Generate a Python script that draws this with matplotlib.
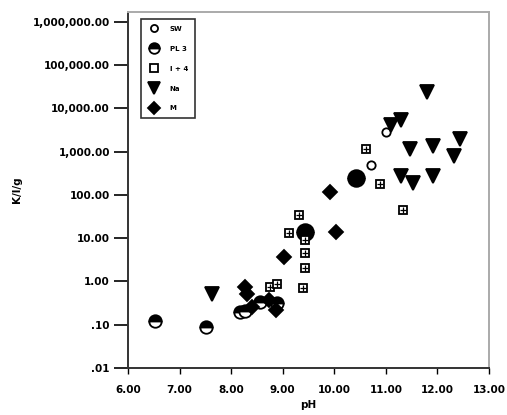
import matplotlib
matplotlib.use("Agg")
import matplotlib.pyplot as plt
from matplotlib.ticker import FixedLocator, FixedFormatter

# Series data (pH, Kd)
labels = ["SW", "PL 3", "I + 4", "Na", "M"]

s1_ph = [11.00, 10.71]
s1_kd = [2900, 500]

s2_ph = [6.52, 7.52, 8.17, 8.27, 8.56, 8.88]
s2_kd = [0.12, 0.09, 0.20, 0.21, 0.34, 0.31]
s2b_ph = [10.42, 9.44]
s2b_kd = [250, 14]

s3_ph = [10.62, 10.88, 11.33, 9.31, 9.12, 9.44, 9.44, 9.40, 8.75, 8.88, 9.44]
s3_kd = [1180, 175, 46, 35, 13, 4.6, 2.1, 0.72, 0.76, 0.87, 9.0]

s4_ph = [11.79, 11.29, 11.10, 11.46, 11.92, 12.44, 12.33, 11.29, 11.52, 11.92, 7.63]
s4_kd = [24000, 5500, 4200, 1180, 1380, 2000, 810, 275, 190, 275, 0.50]

s5_ph = [9.92, 9.02, 10.04, 8.27, 8.31, 8.40, 8.73, 8.87]
s5_kd = [117, 3.7, 14, 0.76, 0.50, 0.26, 0.38, 0.22]

yticks = [0.01, 0.1, 1, 10, 100, 1000, 10000, 100000, 1000000]
ytick_labels = [".01", ".10", "1.00", "10.00", "100.00", "1,000.00",
                "10,000.00", "100,000.00", "1,000,000.00"]
xticks = [6, 7, 8, 9, 10, 11, 12, 13]
xtick_labels = ["6.00", "7.00", "8.00", "9.00", "10.00", "11.00", "12.00", "13.00"]

fig = plt.figure(figsize=(5.07, 4.15), dpi=100)
ax = fig.add_axes([0.2525, 0.1133, 0.712, 0.858])
ax.set_yscale("log")
ax.set_xlim(6, 13)
ax.set_ylim(0.01, 10 ** 6.23)

k = dict(linestyle="none", markeredgecolor="black", markeredgewidth=1.3)
h1, = ax.plot(s1_ph, s1_kd, marker="o", markersize=6, markerfacecolor="white",
              label=labels[0], **k)
h2, = ax.plot(s2_ph, s2_kd, marker="o", markersize=9, fillstyle="top",
              markerfacecolor="black", markerfacecoloralt="white",
              label=labels[1], **k)
ax.plot(s2b_ph, s2b_kd, marker="o", markersize=12, fillstyle="top",
        markerfacecolor="black", markerfacecoloralt="black", **k)
h3, = ax.plot(s3_ph, s3_kd, marker="s", markersize=6, markerfacecolor="white",
              label=labels[2], **k)
ax.plot(s3_ph, s3_kd, marker="+", markersize=5, linestyle="none",
        color="black", markeredgewidth=0.9)
h4, = ax.plot(s4_ph, s4_kd, marker="v", markersize=10, markerfacecolor="black",
              label=labels[3], **k)
h5, = ax.plot(s5_ph, s5_kd, marker="D", markersize=7, markerfacecolor="black",
              label=labels[4], **k)

ax.yaxis.set_major_locator(FixedLocator(yticks))
ax.yaxis.set_major_formatter(FixedFormatter(ytick_labels))
ax.yaxis.set_minor_locator(FixedLocator([]))
ax.set_xticks(xticks)
ax.set_xticklabels(xtick_labels)
ax.tick_params(axis="y", direction="out", length=10, width=1.2, labelsize=7.5, pad=3)
ax.tick_params(axis="x", direction="out", length=4, width=1.0, labelsize=7.5, pad=8)
for t in ax.get_xticklabels() + ax.get_yticklabels():
    t.set_fontweight("bold")

for side in ["left", "bottom"]:
    ax.spines[side].set_linewidth(1.4)
    ax.spines[side].set_color("#333333")
for side in ["top", "right"]:
    ax.spines[side].set_linewidth(1.4)
    ax.spines[side].set_color("#aaaaaa")

ax.set_xlabel("pH", fontsize=7.5, fontweight="bold", labelpad=4)
ax.set_ylabel("K/l/g", fontsize=7.5, fontweight="bold", labelpad=8)

leg = ax.legend(handles=[h1, h2, h3, h4, h5], loc="upper left",
                bbox_to_anchor=(0.025, 0.99), fontsize=5, frameon=True,
                fancybox=False, edgecolor="black", borderpad=1.0,
                labelspacing=2.0, handletextpad=1.2, markerscale=0.85,
                handlelength=2.0)
leg.get_frame().set_linewidth(1.2)
for t in leg.get_texts():
    t.set_fontweight("bold")

fig.savefig("out.png", dpi=100)
